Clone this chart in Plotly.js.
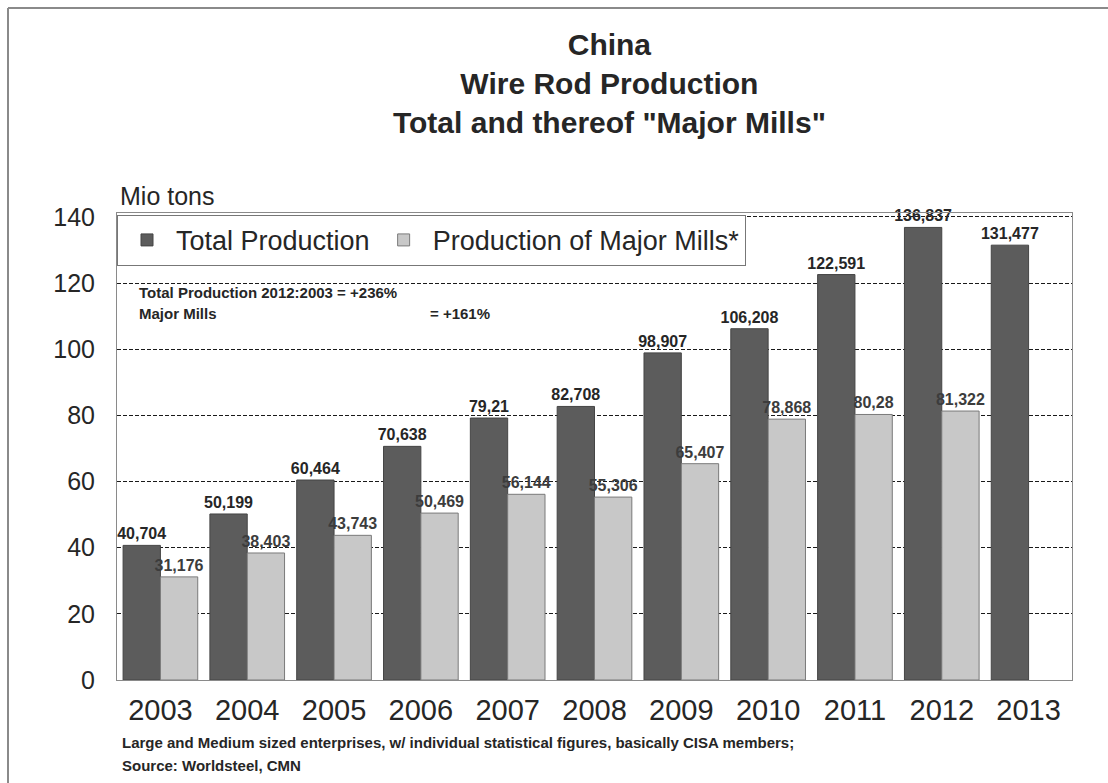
<!DOCTYPE html>
<html>
<head>
<meta charset="utf-8">
<script src="https://cdn.plot.ly/plotly-3.0.1.min.js"></script>
<style>
  html, body { margin: 0; padding: 0; background: #fff; }
  #chart { width: 1108px; height: 783px; }
</style>
</head>
<body>
<div id="chart"></div>
<script>
const years = ["2003","2004","2005","2006","2007","2008","2009","2010","2011","2012","2013"];
const totalProduction = [40.704, 50.199, 60.464, 70.638, 79.21, 82.708, 98.907, 106.208, 122.591, 136.837, 131.477];
const totalLabels = ["40,704","50,199","60,464","70,638","79,21","82,708","98,907","106,208","122,591","136,837","131,477"];
const majorMills = [31.176, 38.403, 43.743, 50.469, 56.144, 55.306, 65.407, 78.868, 80.28, 81.322, null];
const majorLabels = ["31,176","38,403","43,743","50,469","56,144","55,306","65,407","78,868","80,28","81,322",""];
const yTicks = [0, 20, 40, 60, 80, 100, 120, 140];

const FONT = "Liberation Sans, Arial, sans-serif";
const TXT = "#262626";

const traces = [
  {
    type: "bar", name: "Total Production", x: years, y: totalProduction,
    text: totalLabels, texttemplate: "%{text}", textposition: "outside",
    cliponaxis: false, constraintext: "none",
    textfont: { family: FONT, size: 16, color: TXT, weight: 700 },
    marker: { color: "#5c5c5c", line: { color: "#454545", width: 1 } }
  },
  {
    type: "bar", name: "Production of Major Mills*", x: years, y: majorMills,
    text: majorLabels, texttemplate: "%{text}", textposition: "outside",
    cliponaxis: false, constraintext: "none",
    textfont: { family: FONT, size: 16, color: "#3c3c3c", weight: 700 },
    marker: { color: "#c8c8c8", line: { color: "#7a7a7a", width: 1 } }
  }
];

const L = 117, R = 1072, T = 213, B = 680;
const px2x = p => (p - L) / (R - L);
const py2y = p => (B - p) / (B - T);

const layout = {
  width: 1108, height: 783,
  margin: { l: L, r: 1108 - R, t: T, b: 783 - B, pad: 0 },
  paper_bgcolor: "#fff", plot_bgcolor: "#fff",
  font: { family: FONT, color: TXT },
  title: {
    text: 'China<br>Wire Rod Production<br>Total and thereof "Major Mills"',
    font: { family: FONT, size: 30, color: "#262626", weight: 700 },
    x: 0.55, xref: "container", xanchor: "center",
    y: 0.93, yref: "container", yanchor: "top"
  },
  barmode: "group", bargap: 0.14, bargroupgap: 0,
  showlegend: true,
  legend: {
    orientation: "h", x: 0, y: 0.996, xanchor: "left", yanchor: "top",
    bgcolor: "#fff", bordercolor: "#777", borderwidth: 1,
    font: { family: FONT, size: 27, color: TXT },
    itemwidth: 48,
    traceorder: "normal"
  },
  xaxis: {
    type: "category", showgrid: false, zeroline: false,
    showline: true, mirror: true, linecolor: "#8a8a8a", linewidth: 1,
    ticks: "outside", ticklen: 4, tickcolor: "rgba(0,0,0,0)",
    tickfont: { family: FONT, size: 29, color: TXT }
  },
  yaxis: {
    range: [0, 141.2], tickvals: yTicks, ticktext: yTicks.map(String),
    showgrid: true, gridcolor: "#1a1a1a", gridwidth: 1.4, griddash: "4px,2px",
    zeroline: false,
    showline: true, mirror: true, linecolor: "#8a8a8a", linewidth: 1,
    ticks: "outside", ticklen: 16, tickcolor: "rgba(0,0,0,0)",
    tickfont: { family: FONT, size: 25, color: TXT }
  },
  annotations: [
    { xref: "paper", yref: "paper", x: px2x(118), y: py2y(196), xanchor: "left", yanchor: "middle",
      text: "Mio tons", showarrow: false, font: { family: FONT, size: 25, color: TXT } },
    { xref: "paper", yref: "paper", x: px2x(137), y: py2y(292), xanchor: "left", yanchor: "middle",
      text: "Total Production 2012:2003 = +236%", showarrow: false,
      font: { family: FONT, size: 15, color: TXT, weight: 700 } },
    { xref: "paper", yref: "paper", x: px2x(137), y: py2y(313), xanchor: "left", yanchor: "middle",
      text: "Major Mills", showarrow: false,
      font: { family: FONT, size: 15, color: TXT, weight: 700 } },
    { xref: "paper", yref: "paper", x: px2x(428), y: py2y(313), xanchor: "left", yanchor: "middle",
      text: "= +161%", showarrow: false,
      font: { family: FONT, size: 15, color: TXT, weight: 700 } },
    { xref: "paper", yref: "paper", x: px2x(120), y: py2y(742), xanchor: "left", yanchor: "middle",
      text: "Large and Medium sized enterprises, w/ individual statistical figures, basically CISA members;",
      showarrow: false, font: { family: FONT, size: 15, color: TXT, weight: 700 } },
    { xref: "paper", yref: "paper", x: px2x(120), y: py2y(765), xanchor: "left", yanchor: "middle",
      text: "Source: Worldsteel, CMN",
      showarrow: false, font: { family: FONT, size: 15, color: TXT, weight: 700 } }
  ],
  shapes: [
    { type: "line", xref: "paper", yref: "paper", x0: px2x(8), x1: px2x(1120), y0: py2y(8), y1: py2y(8),
      line: { color: "#8a8a8a", width: 2 } },
    { type: "line", xref: "paper", yref: "paper", x0: px2x(8), x1: px2x(8), y0: py2y(8), y1: py2y(800),
      line: { color: "#8a8a8a", width: 2 } }
  ]
};

Plotly.newPlot("chart", traces, layout, { displayModeBar: false, responsive: false });
</script>
</body>
</html>
